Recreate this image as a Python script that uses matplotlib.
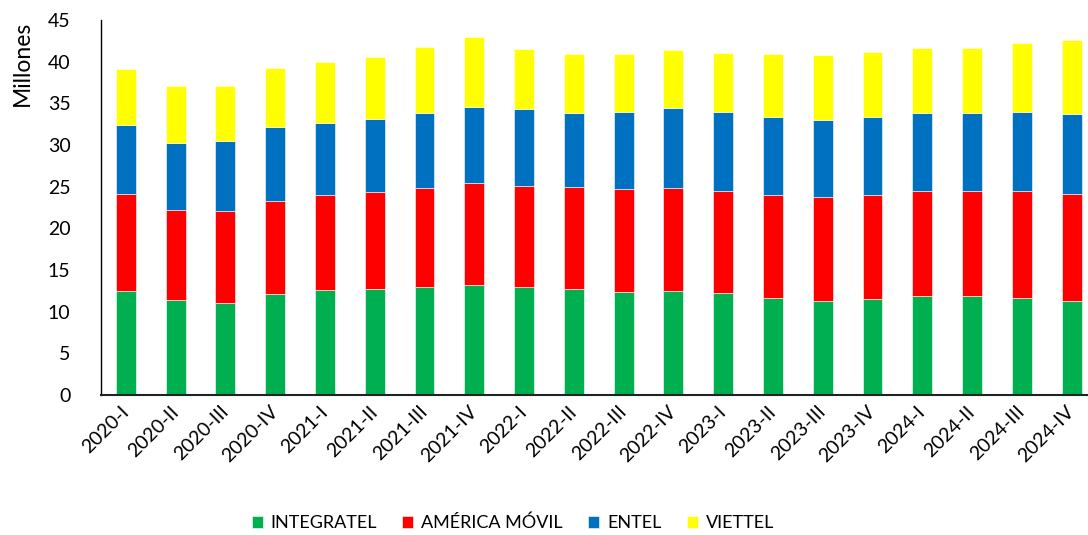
import numpy as np
import matplotlib.pyplot as plt

plt.rcParams['font.family'] = ['Lato', 'DejaVu Sans']

# Quarterly subscribers by operator (millions)
quarters = ['2020-I', '2020-II', '2020-III', '2020-IV',
            '2021-I', '2021-II', '2021-III', '2021-IV',
            '2022-I', '2022-II', '2022-III', '2022-IV',
            '2023-I', '2023-II', '2023-III', '2023-IV',
            '2024-I', '2024-II', '2024-III', '2024-IV']

integratel = [12.44, 11.44, 11.08, 12.08, 12.60, 12.76, 12.96, 13.20, 12.96, 12.76,
              12.36, 12.48, 12.20, 11.60, 11.28, 11.56, 11.84, 11.88, 11.68, 11.28]
america_movil = [11.72, 10.80, 11.00, 11.16, 11.36, 11.64, 11.92, 12.20, 12.16, 12.24,
                 12.32, 12.32, 12.32, 12.36, 12.44, 12.48, 12.60, 12.56, 12.76, 12.88]
entel = [8.20, 7.96, 8.36, 8.88, 8.68, 8.76, 9.00, 9.16, 9.16, 8.84,
         9.28, 9.64, 9.44, 9.36, 9.32, 9.28, 9.36, 9.36, 9.52, 9.60]
viettel = [6.72, 6.88, 6.68, 7.08, 7.36, 7.44, 7.88, 8.36, 7.24, 7.08,
           7.00, 6.96, 7.08, 7.60, 7.72, 7.80, 7.88, 7.88, 8.28, 8.80]

series = [
    ('INTEGRATEL', integratel, '#00B050'),
    ('AMÉRICA MÓVIL', america_movil, '#FF0000'),
    ('ENTEL', entel, '#0070C0'),
    ('VIETTEL', viettel, '#FFFF00'),
]

fig = plt.figure(figsize=(10.88, 5.35), dpi=100)
ax = fig.add_axes([101 / 1088, 140 / 535, 995.5 / 1088, 375 / 535])

x = np.arange(len(quarters))
bottom = np.zeros(len(quarters))
for name, vals, color in series:
    ax.bar(x, vals, width=0.4, bottom=bottom, color=color, label=name,
           edgecolor='white', linewidth=0.4)
    bottom += np.array(vals)

ax.set_xlim(-0.5, 19.5)
ax.set_ylim(0, 45)
ax.set_yticks(range(0, 46, 5))
ax.tick_params(axis='y', length=0, pad=22, labelsize=14)
ax.tick_params(axis='x', length=0, pad=10, labelsize=14)
ax.set_xticks(x)
ax.set_xticklabels(quarters, rotation=45, ha='right', va='center',
                   rotation_mode='anchor')

for side in ['top', 'right']:
    ax.spines[side].set_visible(False)
ax.spines['left'].set_linewidth(1.0)
ax.spines['bottom'].set_linewidth(1.5)
ax.spines['bottom'].set_color('#222222')

fig.text(22 / 1088, 1 - 63 / 535, 'Millones', rotation=90, fontsize=16.5,
         ha='center', va='center')

fig.legend(loc='center', bbox_to_anchor=(513 / 1088, 12 / 535), ncol=4,
           frameon=False, fontsize=13, handlelength=0.6, handleheight=0.6,
           handletextpad=0.45, columnspacing=1.4)

plt.savefig('out.png', dpi=100)
